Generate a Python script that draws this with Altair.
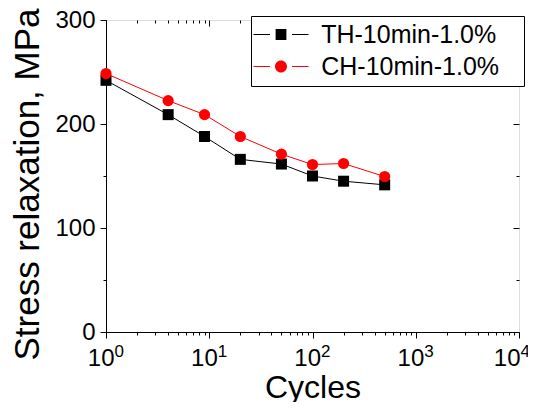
import altair as alt
import pandas as pd

cycles = [1, 4, 9, 20, 50, 100, 200, 500]
th_values = [242, 209, 188, 166, 161.5, 150, 145, 141.5]
ch_values = [248.5, 222.5, 209, 188, 171, 161, 162, 149.5]
series_names = ["TH-10min-1.0%", "CH-10min-1.0%"]
series_colors = ["#000000", "#ff0000"]
x_major = [1, 10, 100, 1000, 10000]
x_minor = [m * d for d in [1, 10, 100, 1000] for m in range(2, 10)]
y_ticks = [0, 50, 100, 150, 200, 250, 300]

rows = []
for c, v in zip(cycles, th_values):
    rows.append({"cycles": c, "value": v, "series": series_names[0]})
for c, v in zip(cycles, ch_values):
    rows.append({"cycles": c, "value": v, "series": series_names[1]})
df = pd.DataFrame(rows)

FONT = "Liberation Sans"
W, H = 413, 312

# legend glyphs (line - marker - line), all drawn as filled shapes; unit = 12px
L, G, T = 2.29, 0.92, 0.045
seg = f"M-{L},-{T}H-{G}V{T}H-{L}ZM{G},-{T}H{L}V{T}H{G}Z"
sq_path = seg + "M-0.45,-0.45H0.45V0.45H-0.45Z"
ci_path = seg + "M-0.5,0A0.5,0.5 0 1,0 0.5,0A0.5,0.5 0 1,0 -0.5,0Z"

color_scale = alt.Scale(domain=series_names, range=series_colors)
shape_scale = alt.Scale(domain=series_names, range=[sq_path, ci_path])
x_scale = alt.Scale(type="log", domain=[1, 10000], nice=False)
y_scale = alt.Scale(domain=[0, 300], nice=False)

major_test = "indexof([1,10,100,1000,10000], datum.value) >= 0"
last_test = "datum.value === 10000"
x_tick_size = {"condition": {"test": major_test, "value": 6}, "value": 3}
y_tick_size = {"condition": {"test": "datum.value % 100 === 0", "value": 6}, "value": 3}

x_axis_main = alt.Axis(
    orient="bottom",
    values=x_major + x_minor,
    tickSize=x_tick_size,
    labelExpr=f"{major_test} ? '10' : ''",
    labelAlign="right",
    labelOffset={"condition": {"test": last_test, "value": 1}, "value": 8},
    labelPadding=8,
    labelFontSize=24, labelFont=FONT, labelColor="black",
    tickColor="black", domainColor="black", labelFlush=False,
    grid=False, title="Cycles", titleFont=FONT, titleFontSize=32,
    titleFontWeight="normal", titleColor="black", titlePadding=2,
)
x_axis_exp = alt.Axis(
    orient="bottom",
    values=x_major, ticks=False, domain=False,
    labelExpr="format(log(datum.value)/log(10), '.0f')",
    labelAlign="left",
    labelOffset={"condition": {"test": last_test, "value": 1}, "value": 8},
    labelPadding=11,
    labelFontSize=17, labelFont=FONT, labelColor="black",
    labelFlush=False, grid=False, title=None,
)
x_axis_top = alt.Axis(
    orient="bottom", offset=-H,
    values=x_major + x_minor, tickSize=x_tick_size, tickColor="black",
    labels=False, domain=False, grid=False, title=None,
)
y_axis = alt.Axis(
    orient="left",
    values=y_ticks,
    tickSize=y_tick_size,
    labelExpr="datum.value % 100 === 0 ? datum.label : ''",
    labelFontSize=24, labelFont=FONT, labelColor="black", labelPadding=5,
    tickColor="black", domainColor="black", grid=False,
    title="Stress relaxation, MPa", titleFont=FONT, titleFontSize=35,
    titleFontWeight="normal", titleColor="black", titlePadding=9,
    titleY=164,
)
y_axis_right = alt.Axis(
    orient="left", offset=-W,
    values=y_ticks, tickSize=y_tick_size, tickColor="black",
    labels=False, domain=False, grid=False, title=None,
)

legend = alt.Legend(
    title="x", titleOrient="right", titleColor="white", titleFontSize=8,
    titlePadding=14,
    orient="none", legendX=145, legendY=-4,
    labelFont=FONT, labelFontSize=25, labelColor="black", labelLimit=400,
    strokeColor="black", fillColor="white", padding=6,
    symbolSize=576, symbolOffset=11.5, labelOffset=27.7, rowPadding=6,
    symbolOpacity=1, symbolStrokeWidth=0,
)

base = alt.Chart(df)


def series_layers(name, shape, size, x_axes, y_axes):
    sub = base.transform_filter(alt.datum.series == name)
    line = sub.mark_line(strokeWidth=1).encode(
        x=alt.X("cycles:Q", scale=x_scale, axis=x_axes[0]),
        y=alt.Y("value:Q", scale=y_scale, axis=y_axes[0]),
        color=alt.Color("series:N", scale=color_scale),
    )
    pts = sub.mark_point(shape=shape, filled=True, size=size, opacity=1).encode(
        x=alt.X("cycles:Q", scale=x_scale, axis=x_axes[1]),
        y=alt.Y("value:Q", scale=y_scale, axis=y_axes[1]),
        color=alt.Color("series:N", scale=color_scale),
    )
    return [line, pts]


legend_layer = base.mark_point(filled=True, opacity=0, size=1).encode(
    x=alt.X("cycles:Q", scale=x_scale, axis=None),
    y=alt.Y("value:Q", scale=y_scale, axis=None),
    color=alt.Color("series:N", scale=color_scale, legend=legend),
    shape=alt.Shape("series:N", scale=shape_scale, legend=legend),
)

layers = series_layers(series_names[0], "square", 121,
                       [x_axis_main, x_axis_exp], [y_axis, y_axis_right]) + \
         series_layers(series_names[1], "circle", 125,
                       [x_axis_top, None], [None, None]) + [legend_layer]

chart = alt.layer(*layers).resolve_axis(x="independent", y="independent").properties(
    width=W, height=H,
    autosize=alt.AutoSizeParams(type="none"),
    padding={"left": 98, "top": 12, "right": 9, "bottom": 70},
).configure_view(stroke="black", strokeWidth=1).configure(background="white")

chart.save("out.html", embed_options={"renderer": "svg", "actions": False})
